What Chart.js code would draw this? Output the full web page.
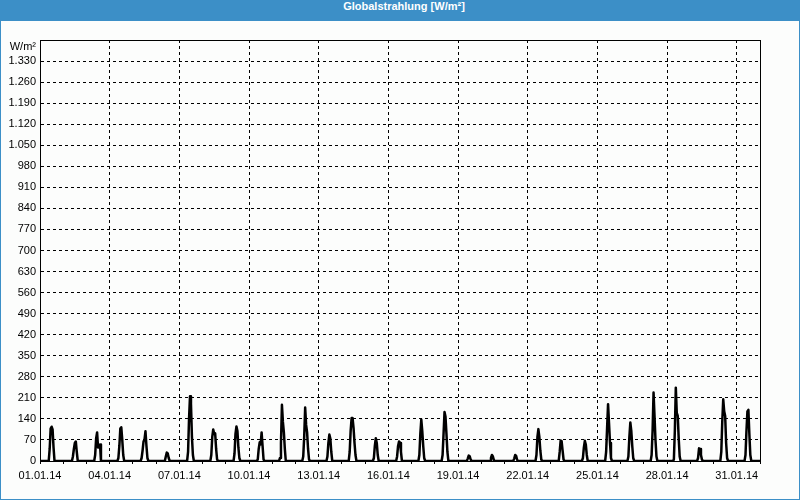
<!DOCTYPE html>
<html>
<head>
<meta charset="utf-8">
<script src="https://cdn.jsdelivr.net/npm/chart.js@4/dist/chart.umd.min.js"></script>
<style>
  html, body { margin: 0; padding: 0; background: #fcfdfc; }
  #frame { position: absolute; left: 0; top: 0; width: 800px; height: 500px; box-sizing: border-box;
           border: 1px solid #3c8fc7; border-top: none; background: #fcfdfc; }
  #title { height: 21px; line-height: 20px; background: #3c8fc7; color: #fff; text-align: center;
           font: bold 11px "Liberation Sans", "DejaVu Sans", sans-serif; padding-left: 8px; box-sizing: border-box; }
  #wrap { position: relative; width: 798px; height: 478px; }
</style>
</head>
<body>
<div id="frame">
  <div id="title">Globalstrahlung [W/m²]</div>
  <div id="wrap"><canvas id="c" width="798" height="478"></canvas></div>
</div>
<script>
// Tick labels (every 3rd day) and y-axis unit
const dateLabels = ['01.01.14','04.01.14','07.01.14','10.01.14','13.01.14','16.01.14','19.01.14','22.01.14','25.01.14','28.01.14','31.01.14'];
const unitLabel = 'W/m²';
// Hours of day at which readings are taken
const hours = [6, 7, 8, 9, 10, 11, 12, 13, 14, 15, 16];
// Global radiation [W/m²], one row per day of January 2014 (01..31), values at the hours above
const radiation = [
  [0, 0, 0, 0, 40, 108, 114, 105, 45, 0, 0],    // 01
  [0, 0, 0, 0, 15, 40, 60, 65, 30, 0, 0],       // 02
  [0, 0, 0, 20, 75, 95, 45, 50, 55, 0, 0],      // 03
  [0, 0, 0, 10, 50, 108, 112, 70, 20, 0, 0],    // 04
  [0, 0, 0, 10, 35, 65, 72, 99, 50, 10, 0],     // 05
  [0, 0, 0, 0, 15, 28, 25, 10, 0, 0, 0],        // 06
  [0, 0, 0, 30, 140, 215, 190, 80, 20, 0, 0],   // 07
  [0, 0, 0, 20, 80, 105, 90, 92, 40, 5, 0],     // 08
  [0, 0, 0, 25, 90, 115, 100, 45, 10, 0, 0],    // 09
  [0, 0, 0, 5, 40, 62, 55, 95, 50, 5, 0],       // 10
  [0, 0, 10, 60, 187, 130, 95, 40, 0, 0, 0],    // 11
  [0, 0, 15, 80, 178, 120, 95, 40, 5, 0, 0],    // 12
  [0, 0, 0, 15, 60, 88, 75, 30, 0, 0, 0],       // 13
  [0, 0, 30, 100, 143, 143, 110, 60, 20, 0, 0], // 14
  [0, 0, 0, 10, 50, 76, 60, 20, 0, 0, 0],       // 15
  [0, 0, 0, 15, 50, 65, 60, 30, 0, 0, 0],       // 16
  [0, 0, 20, 90, 138, 100, 50, 10, 0, 0, 0],    // 17
  [0, 0, 20, 90, 163, 148, 90, 30, 0, 0, 0],    // 18
  [0, 0, 0, 0, 8, 18, 16, 5, 0, 0, 0],          // 19
  [0, 0, 0, 0, 10, 20, 15, 3, 0, 0, 0],         // 20
  [0, 0, 0, 0, 8, 20, 17, 4, 0, 0, 0],          // 21
  [0, 0, 0, 20, 80, 106, 80, 35, 5, 0, 0],      // 22
  [0, 0, 0, 30, 68, 66, 35, 5, 0, 0, 0],        // 23
  [0, 0, 0, 10, 45, 67, 55, 20, 0, 0, 0],       // 24
  [0, 0, 0, 30, 110, 189, 125, 60, 10, 0, 0],   // 25
  [0, 0, 15, 80, 128, 100, 50, 10, 0, 0, 0],    // 26
  [0, 0, 20, 100, 228, 150, 70, 15, 0, 0, 0],   // 27
  [0, 5, 100, 244, 160, 150, 75, 15, 0, 0, 0],  // 28
  [0, 0, 10, 42, 40, 20, 5, 0, 0, 0, 0],        // 29
  [0, 0, 30, 130, 205, 165, 150, 60, 10, 0, 0], // 30
  [0, 0, 0, 20, 100, 165, 170, 90, 20, 0, 0]    // 31
];
const yMax = 1400, yStep = 70, dayCount = 31;

const points = [{x: 0, y: 0}];
radiation.forEach((row, d) => row.forEach((v, j) => points.push({x: d + hours[j] / 24, y: v})));
points.push({x: dayCount, y: 0});

const FONT = '"Liberation Sans", "DejaVu Sans", sans-serif';

const framePlugin = {
  id: 'frame',
  afterDraw(chart) {
    const {ctx, chartArea: a} = chart;
    ctx.save();
    ctx.strokeStyle = '#000';
    ctx.lineWidth = 1;
    ctx.strokeRect(Math.round(a.left) + 0.5, Math.round(a.top) + 0.5, Math.round(a.right - a.left), Math.round(a.bottom - a.top));
    ctx.fillStyle = '#000';
    ctx.font = '11px ' + FONT;
    ctx.textAlign = 'right';
    ctx.textBaseline = 'middle';
    ctx.fillText(unitLabel, a.left - 4, a.top + 7);
    ctx.restore();
  }
};

new Chart(document.getElementById('c'), {
  type: 'line',
  data: {
    datasets: [{
      data: points,
      borderColor: '#000',
      borderWidth: 2.5,
      borderJoinStyle: 'round',
      pointRadius: 0,
      tension: 0,
      fill: false
    }]
  },
  options: {
    responsive: false,
    animation: false,
    parsing: false,
    layout: { padding: { top: 19, right: 39, left: 0, bottom: 0 } },
    plugins: { legend: { display: false }, tooltip: { enabled: false }, title: { display: false } },
    scales: {
      x: {
        type: 'linear',
        min: 0, max: dayCount,
        afterFit(s) { s.height = 38; },
        border: { display: true, color: '#000', width: 1, dash: [3, 3] },
        grid: {
          color: (c) => (c.tick && c.tick.value % 3 === 0 && c.tick.value > 0 && c.tick.value < dayCount) ? '#000' : 'rgba(0,0,0,0)',
          tickColor: '#000',
          tickLength: 3,
          drawTicks: true,
          lineWidth: 1
        },
        ticks: {
          stepSize: 1,
          autoSkip: false,
          maxRotation: 0,
          padding: 5,
          color: '#000',
          font: { family: FONT, size: 11 },
          callback: (v) => (v % 3 === 0 && v / 3 < dateLabels.length) ? dateLabels[v / 3] : ''
        }
      },
      y: {
        min: 0, max: yMax,
        afterFit(s) { s.width = 39; },
        border: { display: true, color: '#000', width: 1, dash: [3, 3] },
        grid: {
          color: (c) => (c.tick && c.tick.value > 0 && c.tick.value < yMax) ? '#000' : 'rgba(0,0,0,0)',
          drawTicks: false,
          lineWidth: 1
        },
        ticks: {
          stepSize: yStep,
          padding: 4,
          color: '#000',
          font: { family: FONT, size: 11 },
          callback: (v) => v >= yMax ? '' : v.toLocaleString('de-DE')
        }
      }
    }
  },
  plugins: [framePlugin]
});
</script>
</body>
</html>
